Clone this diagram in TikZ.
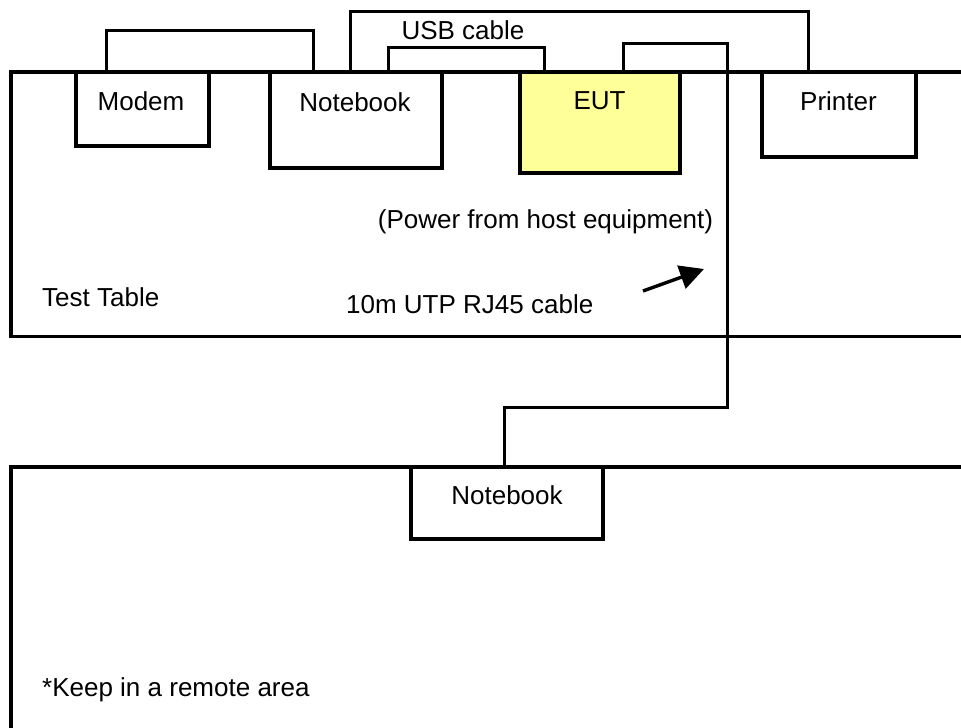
\documentclass[tikz,border=0pt]{standalone}
\usepackage{fontspec}
\setmainfont{Liberation Sans}
\usetikzlibrary{arrows.meta}
\definecolor{eutyellow}{HTML}{FFFF99}
\begin{document}
\begin{tikzpicture}[x=1pt,y=-1pt,
  frame/.style={line width=3.2pt, line join=miter},
  box/.style={draw, line width=3.4pt, inner sep=0pt, outer sep=0pt, anchor=north west, fill=white},
  cable/.style={line width=3pt, line join=miter},
  txt/.style={inner sep=0pt, anchor=base, font=\fontsize{26}{31}\selectfont},
  ltxt/.style={inner sep=0pt, anchor=base west, font=\fontsize{26}{31}\selectfont}]
\useasboundingbox (0,0) rectangle (961,728);

% tables
\draw[frame] (962,72) -- (11,72) -- (11,336.5) -- (962,336.5);
\draw[frame] (962,467) -- (11,467) -- (11,730);

% boxes
\node[box, minimum width=133pt, minimum height=74pt] (modem) at (76,72) {};
\node[box, minimum width=172pt, minimum height=96pt] (nb) at (270,72) {};
\node[box, minimum width=160pt, minimum height=101pt, fill=eutyellow] (eut) at (520,72) {};
\node[box, minimum width=154pt, minimum height=85pt] (pr) at (762,72) {};
\node[box, minimum width=192pt, minimum height=72pt] (nb2) at (411,467) {};

% labels
\node[txt] at (141,110.5) {Modem};
\node[txt] at (355,111.5) {Notebook};
\node[txt] at (599.5,109.5) {EUT};
\node[txt] at (838.5,110) {Printer};
\node[txt] at (507,504) {Notebook};
\node[txt] at (463,39.3) {USB cable};
\node[ltxt] at (42,306.7) {Test Table};
\node[ltxt] at (346,313) {10m UTP RJ45 cable};
\node[txt] at (545.5,228) {(Power from host equipment)};
\node[ltxt] at (42,696.7) {*Keep in a remote area};

% cables
\draw[cable] ([xshift=30pt]modem.north west) -- ++(0,-42) -| ([xshift=43pt]nb.north west);
\draw[cable] ([xshift=80pt]nb.north west) -- ++(0,-60.3) -| ([xshift=46pt]pr.north west);
\draw[cable] ([xshift=118pt]nb.north west) -- ++(0,-24.3) -| ([xshift=24pt]eut.north west);
\coordinate (rjA) at (727,43);
\coordinate (rjB) at (727,407);
\draw[cable] ([xshift=103pt]eut.north west) |- (rjA) -- (rjB) -| ([xshift=-3pt]nb2.north);

% arrow
\coordinate (arT) at (643,291);
\coordinate (arH) at (704,269);
\draw[line width=3.4pt, -{Triangle[length=24pt,width=24pt]}] (arT) -- (arH);
\end{tikzpicture}
\end{document}
